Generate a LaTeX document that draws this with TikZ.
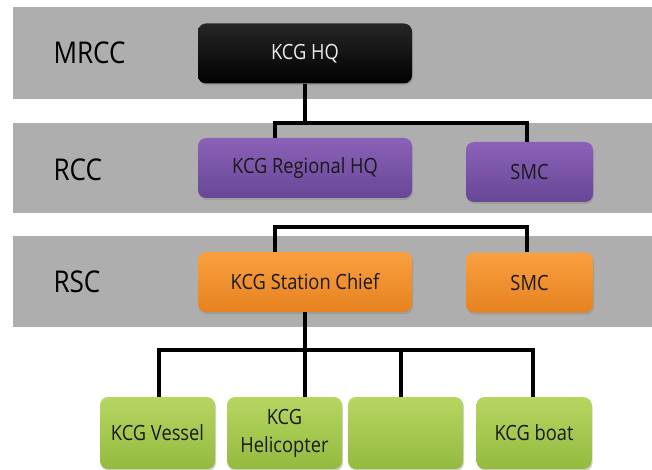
\documentclass[tikz,border=0pt]{standalone}
\usepackage{fontspec}
\setmainfont[FakeStretch=0.87]{Open Sans}
\usetikzlibrary{shadings,shadows}
\definecolor{bandgray}{RGB}{174,174,174}
\definecolor{purpleA}{RGB}{138,98,184}
\definecolor{purpleB}{RGB}{104,70,150}
\definecolor{orangeA}{RGB}{250,160,64}
\definecolor{orangeB}{RGB}{230,130,32}
\definecolor{greenA}{RGB}{182,214,98}
\definecolor{greenB}{RGB}{148,186,62}
\begin{document}
\begin{tikzpicture}[x=1pt,y=-1pt,
	band/.style={fill=bandgray},
	lvl/.style={anchor=west,font={\fontsize{30}{30}\selectfont}},
	unit/.style={rounded corners=8pt,minimum height=60pt,inner sep=0pt,align=center,
		font={\fontsize{21}{28}\selectfont},text=black!90,
		drop shadow={opacity=0.35,shadow xshift=1pt,shadow yshift=-2pt}},
	hqbox/.style={unit,minimum width=214pt,top color=black!85,bottom color=black,text=white!92!black},
	rccbox/.style={unit,top color=purpleA,bottom color=purpleB},
	rscbox/.style={unit,top color=orangeA,bottom color=orangeB},
	crew/.style={unit,minimum width=115pt,minimum height=72pt,top color=greenA,bottom color=greenB},
	link/.style={line width=3.3pt}]
	\useasboundingbox (0,0) rectangle (652,470);
	\fill[band] (13,7) rectangle (652,99);
	\fill[band] (13,123) rectangle (652,213);
	\fill[band] (13,236) rectangle (652,327);
	\node[lvl] (mrcc) at (50,53) {MRCC};
	\node[lvl] (rcc) at (50,170) {RCC};
	\node[lvl] (rsc) at (50,282) {RSC};
	\node[hqbox] (hq) at (305,53.5) {KCG HQ};
	\node[rccbox,minimum width=214pt] (reg) at (305,168) {KCG Regional HQ};
	\node[rccbox,minimum width=127pt] (smcr) at (529.5,172) {SMC};
	\node[rscbox,minimum width=214pt] (chief) at (305,282) {KCG Station Chief};
	\node[rscbox,minimum width=127pt] (smcs) at (529.5,282.5) {SMC};
	\node[crew] (vessel) at (157.5,433) {KCG Vessel};
	\node[crew] (heli) at (284.5,433) {KCG\\Helicopter};
	\node[crew] (blank) at (405.5,433) {};
	\node[crew] (boat) at (534,433) {KCG boat};
	\coordinate (ja) at (275,123);
	\coordinate (jb) at (527,123);
	\coordinate (jc) at (275,227);
	\coordinate (jd) at (527,227);
	\coordinate (je) at (159,350);
	\coordinate (jf) at (533,350);
	\coordinate (jg) at (401,350);
	\draw[link] (hq.south) -- (hq.south |- ja);
	\draw[link] (reg.north -| ja) -- (ja) -- (jb) -- (smcr.north -| jb);
	\draw[link] (chief.north -| jc) -- (jc) -- (jd) -- (smcs.north -| jd);
	\draw[link] (chief.south) -- (chief.south |- je);
	\draw[link] (vessel.north -| je) -- (je) -- (jf) -- (boat.north -| jf);
	\draw[link] (chief.south |- je) -- (chief.south |- heli.north);
	\draw[link] (jg) -- (jg |- blank.north);
\end{tikzpicture}
\end{document}
